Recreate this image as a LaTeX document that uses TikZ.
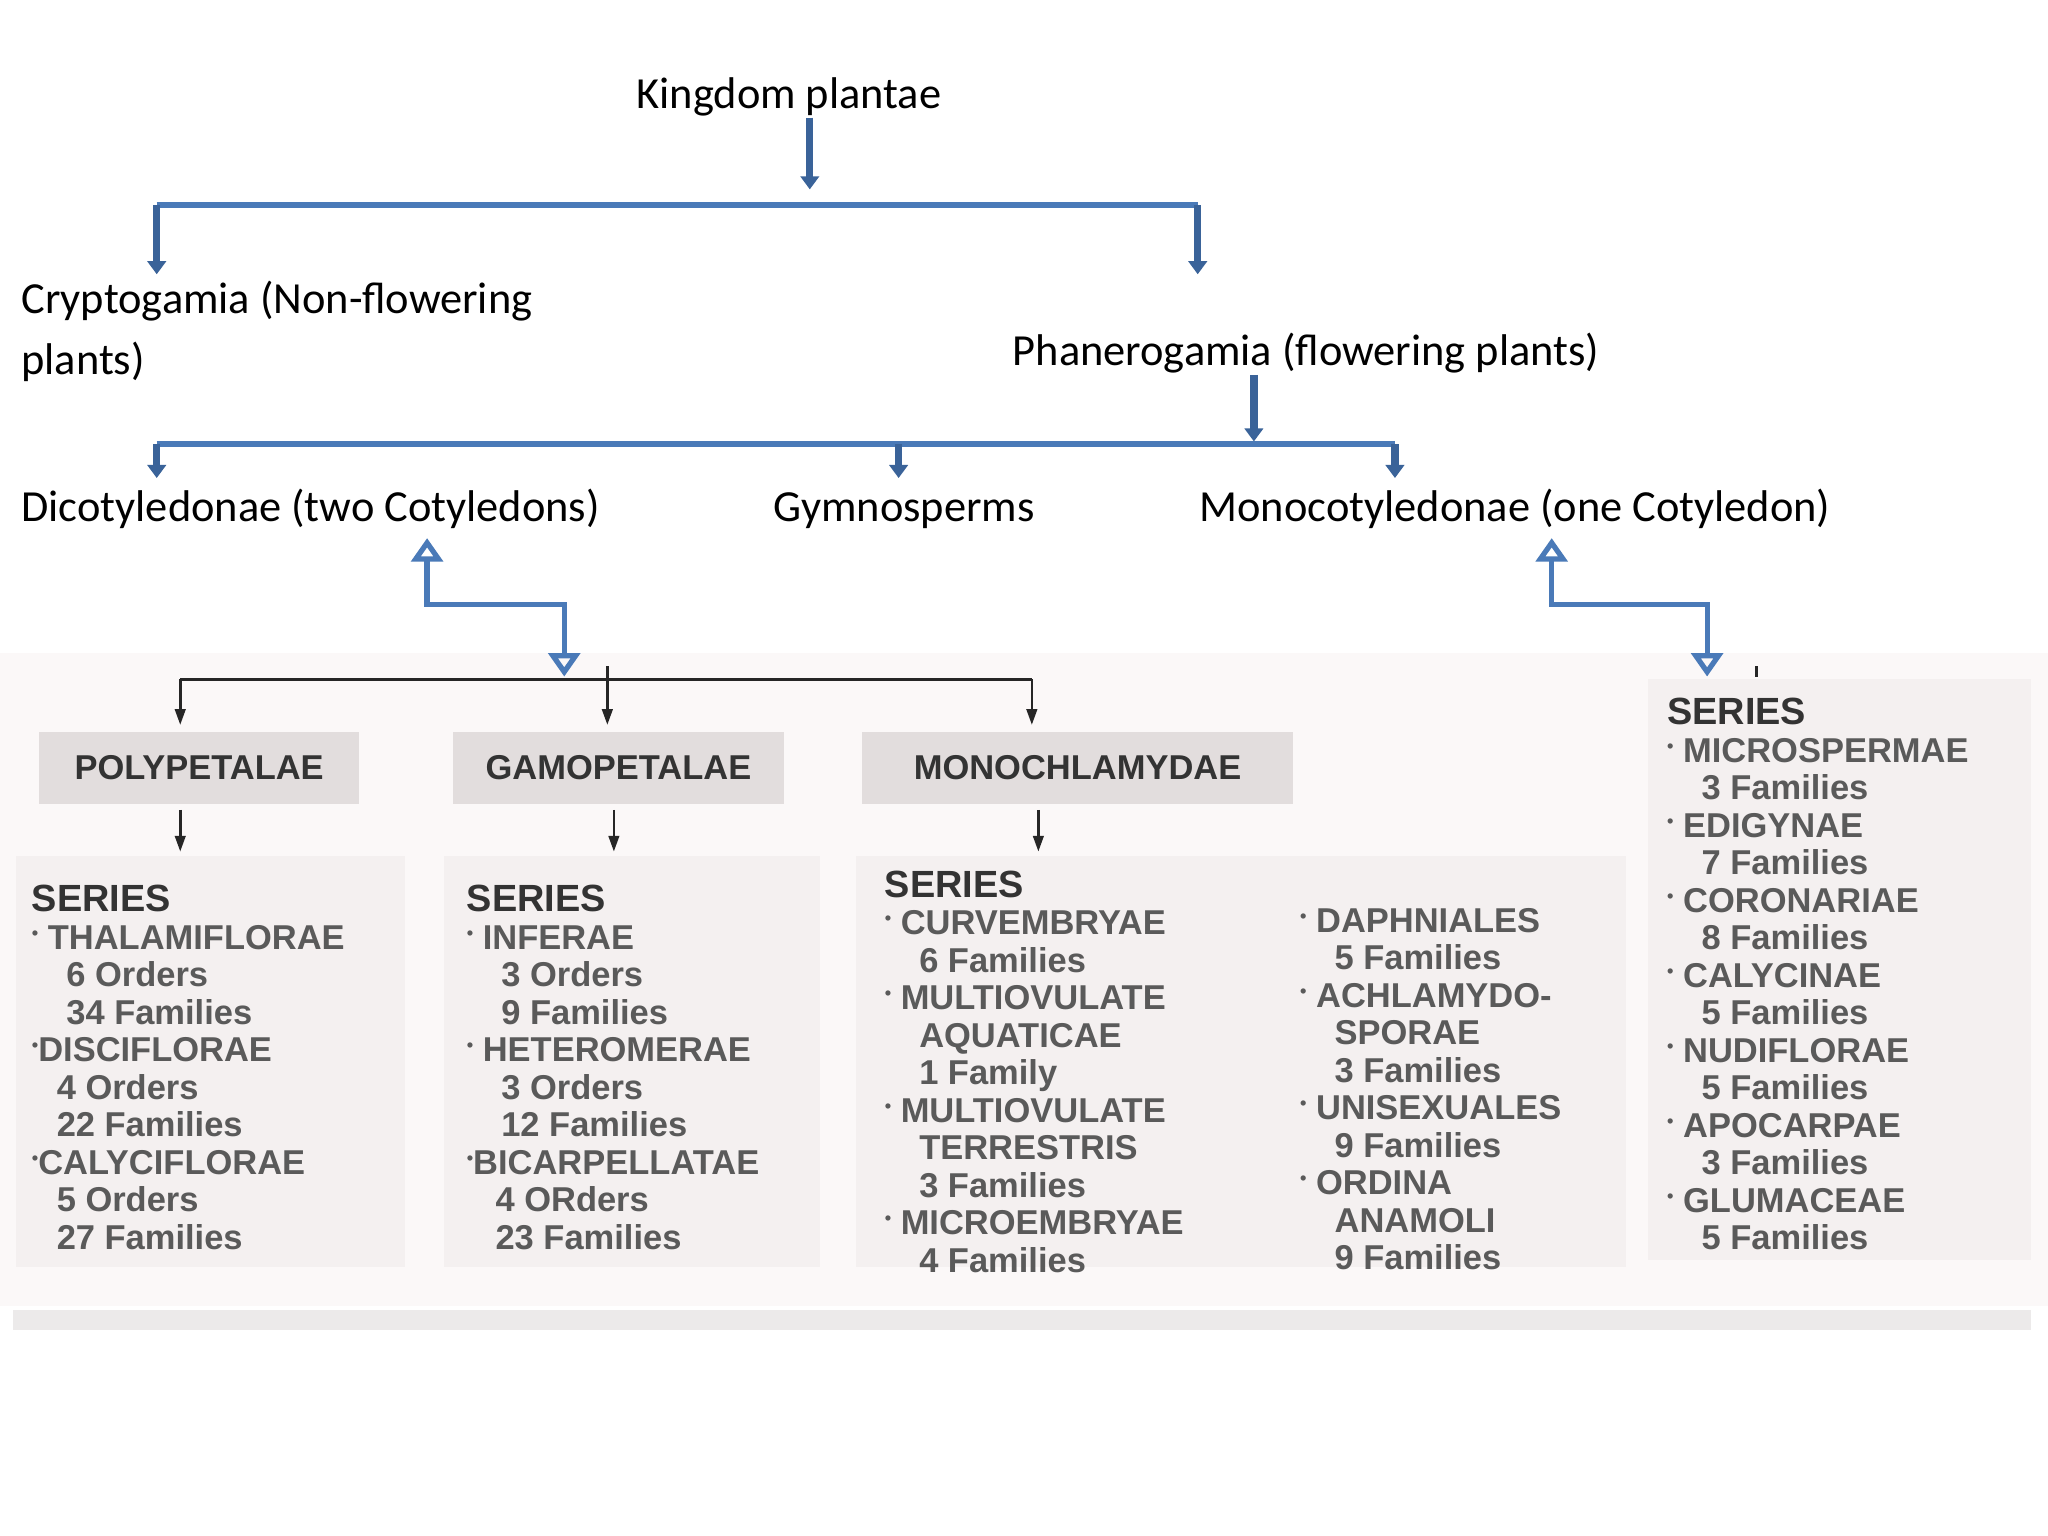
\documentclass[tikz,border=0pt]{standalone}
\usepackage{fontspec}
\setmainfont{Carlito}
\newfontfamily\boxfont{Liberation Sans}
\usetikzlibrary{arrows.meta}
\definecolor{bl}{HTML}{4A7AB8}
\definecolor{bld}{HTML}{3A6399}
\definecolor{hdr}{HTML}{E2DDDD}
\definecolor{pan}{HTML}{F4F0F0}
\definecolor{txg}{HTML}{5A5A5A}
\definecolor{bgp}{HTML}{FBF8F8}
\definecolor{band}{HTML}{ECEAEA}
\newcommand{\bu}{\raisebox{0.55ex}{\scriptsize•}}
\tikzset{
  main/.style={font=\fontsize{17}{20}\selectfont, anchor=base west, inner sep=0},
  bt/.style={font=\boxfont\bfseries\fontsize{13.2}{15}\selectfont, text=txg, anchor=base west, inner sep=0},
  st/.style={font=\boxfont\bfseries\fontsize{14.5}{16}\selectfont, text=black!80, anchor=base west, inner sep=0},
  hd/.style={font=\boxfont\bfseries\fontsize{13.2}{15}\selectfont, text=black!80},
  blue/.style={draw=bl, line width=2.2pt},
  barr/.style={draw=bld, line width=2.8pt, -{Triangle[length=5pt,width=7pt]}},
  darr/.style={draw=bl, line width=2pt, {Triangle[length=9pt,width=12pt,open]}-{Triangle[length=9pt,width=12pt,open]}},
  karr/.style={draw=black!85, line width=1pt, -{Triangle[length=6pt,width=4pt]}},
}
\begin{document}
\begin{tikzpicture}[x=0.5pt,y=-0.5pt]
\useasboundingbox (0,0) rectangle (1568,1176);
\fill[white] (0,0) rectangle (1568,1176);
\fill[bgp] (0,500) rectangle (1568,1000);
% panels
\fill[pan] (12,655) rectangle (310,970);
\fill[pan] (340,655) rectangle (628,970);
\fill[pan] (655,655) rectangle (1245,970);
\fill[pan] (1262,520) rectangle (1555,965);
\fill[band] (10,1003) rectangle (1555,1018);
\node[fill=hdr, minimum width=122.5pt, minimum height=27.5pt, hd] (poly) at (152.5,588) {POLYPETALAE};
\node[fill=hdr, minimum width=126.5pt, minimum height=27.5pt, hd] (gamo) at (473.5,588) {GAMOPETALAE};
\node[fill=hdr, minimum width=165pt, minimum height=27.5pt, hd] (mono) at (825,588) {MONOCHLAMYDAE};
% top texts
\node[main] (king) at (487,83) {Kingdom plantae};
\node[main] (cry) at (16,240) {Cryptogamia (Non-flowering};
\node[main] (cry2) at (16,287) {plants)};
\node[main] (phan) at (775,280) {Phanerogamia (flowering plants)};
\node[main] (dic) at (16,399) {Dicotyledonae (two Cotyledons)};
\node[main] (gym) at (592,399) {Gymnosperms};
\node[main] (moc) at (918,399) {Monocotyledonae (one Cotyledon)};
% coordinates
\coordinate (k1) at (620,90); \coordinate (k2) at (620,145);
\coordinate (hL) at (120,157); \coordinate (hR) at (917,157);
\coordinate (cL) at (120,210); \coordinate (cR) at (917,210);
\coordinate (p1) at (960,287); \coordinate (p2) at (960,338);
\coordinate (gL) at (120,340); \coordinate (gR) at (1068,340); \coordinate (gM) at (688,340);
\draw[barr] (k1) -- (k2);
\draw[blue] (hL) -- (hR);
\draw[barr] (hL) -- (cL);
\draw[barr] (hR) -- (cR);
\draw[barr] (p1) -- (p2);
\draw[blue] (gL) -- (gR);
\draw[barr] (gL) -- (120,366);
\draw[barr] (gM) -- (688,366);
\draw[barr] (gR) -- (1068,366);
\draw[darr] (327,412) -- (327,463) -- (432,463) -- (432,518);
\draw[darr] (1188,412) -- (1188,463) -- (1307,463) -- (1307,518);
% black tree
\draw[black!85, line width=1.2pt] (138,520) -- (790,520);
\draw[karr] (138,520) -- (138,555);
\draw[karr] (465,510) -- (465,555);
\draw[karr] (790,520) -- (790,555);
\draw[karr] (138,620) -- (138,652);
\draw[karr] (470,620) -- (470,652);
\draw[karr] (795,620) -- (795,652);
\draw[black!85, line width=1pt] (1345,510) -- (1345,518);
% columns
\newcommand{\col}[4]{%
 \node[st] (#1s) at (#2,#3) {SERIES};
 \foreach \t [count=\i] in {#4} {\node[bt] (#1\i) at (#2,#3+\i*28.7) {\t};}}
\col{a}{24}{698}{{\bu\ THALAMIFLORAE},{\ \ \ \,6 Orders},{\ \ \ \,34 Families},{\bu DISCIFLORAE},{\ \ \,4 Orders},{\ \ \,22 Families},{\bu CALYCIFLORAE},{\ \ \,5 Orders},{\ \ \,27 Families}}
\col{b}{357}{698}{{\bu\ INFERAE},{\ \ \ \,3 Orders},{\ \ \ \,9 Families},{\bu\ HETEROMERAE},{\ \ \ \,3 Orders},{\ \ \ \,12 Families},{\bu BICARPELLATAE},{\ \ \ 4 ORders},{\ \ \ 23 Families}}
\col{c}{677}{687}{{\bu\ CURVEMBRYAE},{\ \ \ \,6 Families},{\bu\ MULTIOVULATE},{\ \ \ \,AQUATICAE},{\ \ \ \,1 Family},{\bu\ MULTIOVULATE},{\ \ \ \,TERRESTRIS},{\ \ \ \,3 Families},{\bu\ MICROEMBRYAE},{\ \ \ \,4 Families}}
\foreach \t [count=\i] in {{\bu\ DAPHNIALES},{\ \ \ \,5 Families},{\bu\ ACHLAMYDO-},{\ \ \ \,SPORAE},{\ \ \ \,3 Families},{\bu\ UNISEXUALES},{\ \ \ \,9 Families},{\bu\ ORDINA},{\ \ \ \,ANAMOLI},{\ \ \ \,9 Families}}
  {\node[bt] (d\i) at (995,685+\i*28.7) {\t};}
\col{e}{1276}{555}{{\bu\ MICROSPERMAE},{\ \ \ \,3 Families},{\bu\ EDIGYNAE},{\ \ \ \,7 Families},{\bu\ CORONARIAE},{\ \ \ \,8 Families},{\bu\ CALYCINAE},{\ \ \ \,5 Families},{\bu\ NUDIFLORAE},{\ \ \ \,5 Families},{\bu\ APOCARPAE},{\ \ \ \,3 Families},{\bu\ GLUMACEAE},{\ \ \ \,5 Families}}
\end{tikzpicture}
\end{document}
